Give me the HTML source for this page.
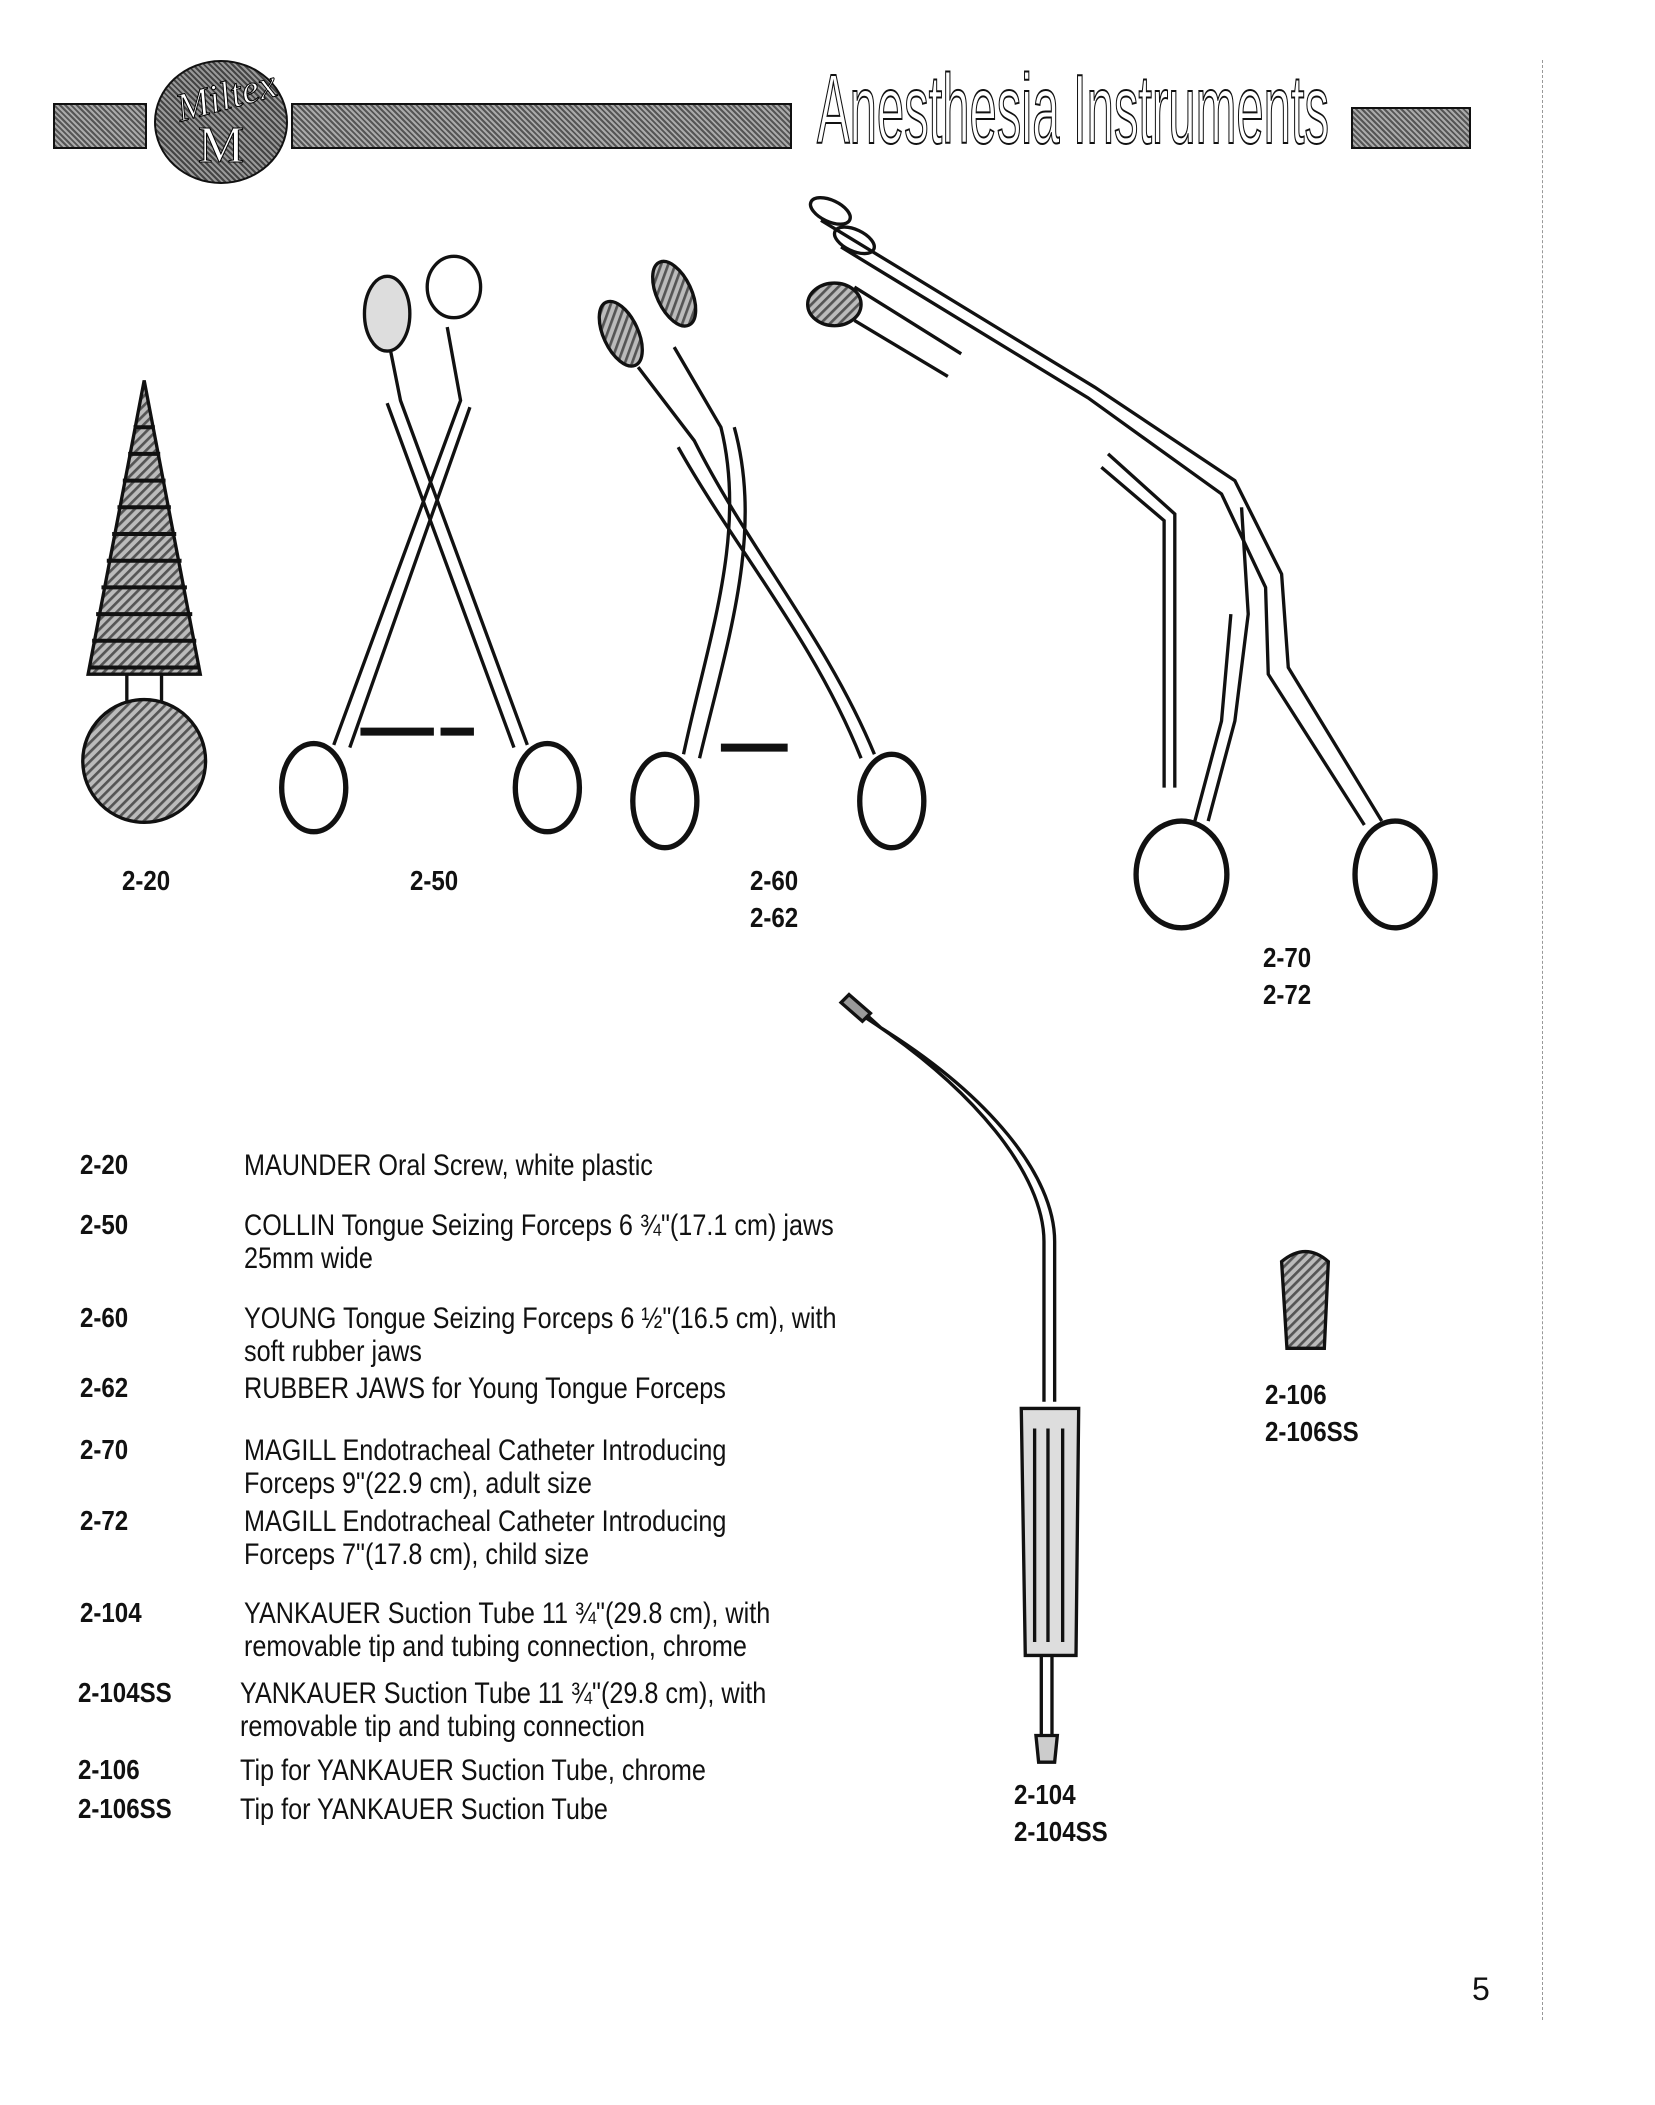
<!DOCTYPE html>
<html><head><meta charset="utf-8"><style>
html,body{margin:0;padding:0;background:#fff}
body{width:1655px;height:2105px;position:relative;overflow:hidden;font-family:"Liberation Sans",sans-serif;color:#111}
.t{position:absolute;font-size:30px;line-height:33px;white-space:nowrap;transform:scaleX(0.84);transform-origin:0 0}
.c{position:absolute;font-size:28px;font-weight:bold;white-space:nowrap;line-height:34px;transform:scaleX(0.86);transform-origin:0 0}
.bar{position:absolute;background:repeating-linear-gradient(45deg,#555 0 2px,#aaa 2px 4px);border:2px solid #111}
</style></head><body>
<div class="bar" style="left:53px;top:103px;width:90px;height:42px"></div>
<div class="bar" style="left:291px;top:103px;width:497px;height:42px"></div>
<div class="bar" style="left:1351px;top:107px;width:116px;height:38px"></div>
<div style="position:absolute;left:154px;top:60px;width:130px;height:120px;border-radius:50%;background:repeating-linear-gradient(45deg,#444 0 2px,#999 2px 4px);border:2px solid #111"></div>
<div style="position:absolute;left:175px;top:72px;font-family:'Liberation Serif',serif;font-style:italic;font-size:40px;color:#fff;-webkit-text-stroke:1px #000;transform:rotate(-15deg)">Miltex</div>
<div style="position:absolute;left:198px;top:118px;font-family:'Liberation Serif',serif;font-size:52px;line-height:56px;color:#fff;-webkit-text-stroke:1px #000">M</div>
<div style="position:absolute;left:817px;top:54px;font-size:98px;line-height:110px;color:#fff;-webkit-text-stroke:2px #111;white-space:nowrap;transform:scaleX(0.5);transform-origin:0 0">Anesthesia Instruments</div>
<div style="position:absolute;left:1542px;top:60px;height:1960px;border-left:1px dashed #999"></div>

<svg width="1655" height="2105" style="position:absolute;left:0;top:0" viewBox="0 0 1655 2105">
<defs><pattern id="h" width="5" height="5" patternUnits="userSpaceOnUse" patternTransform="rotate(45)"><rect width="5" height="5" fill="#bbb"/><rect width="2" height="5" fill="#555"/></pattern></defs>
<g transform="scale(1.335)" fill="none" stroke="#111" stroke-width="2.5">
<path d="M108 285 L150 505 L66 505 Z" fill="url(#h)"/>
<g stroke-width="3">
<path d="M100 320h16M96 340h24M92 360h32M88 380h40M84 400h48M80 420h56M76 440h64M72 460h72M69 480h78M66 500h84"/></g>
<path d="M95 505 L95 525 M121 505 L121 525"/>
<circle cx="108" cy="570" r="46" fill="url(#h)"/>
<ellipse cx="235" cy="590" rx="24" ry="33" stroke-width="4"/>
<ellipse cx="410" cy="590" rx="24" ry="33" stroke-width="4"/>
<path d="M250 558 L345 300 L335 245 M262 560 L352 305 M395 558 L300 300 L292 260 M385 560 L290 302"/>
<ellipse cx="290" cy="235" rx="17" ry="28" fill="#ddd"/>
<ellipse cx="340" cy="215" rx="20" ry="23"/>
<path d="M270 548 h55 M330 548 h25" stroke-width="6"/>
<ellipse cx="498" cy="600" rx="24" ry="35" stroke-width="4"/>
<ellipse cx="668" cy="600" rx="24" ry="35" stroke-width="4"/>
<path d="M512 565 C530 480 560 400 540 320 L505 260 M524 568 C545 480 572 400 550 320 M655 565 C620 480 560 410 520 330 L478 275 M645 568 C610 480 550 410 508 335"/>
<ellipse cx="465" cy="250" rx="13" ry="26" fill="url(#h)" transform="rotate(-25 465 250)"/>
<ellipse cx="505" cy="220" rx="13" ry="26" fill="url(#h)" transform="rotate(-25 505 220)"/>
<path d="M540 560 h50" stroke-width="6"/>
<ellipse cx="885" cy="655" rx="34" ry="40" stroke-width="4"/>
<ellipse cx="1045" cy="655" rx="30" ry="40" stroke-width="4"/>
<path d="M615 165 L820 290 L925 360 L960 430 L965 500 L1035 615 M630 185 L815 298 L915 370 L948 440 L950 505 L1022 618"/>
<path d="M905 615 L925 540 L935 460 L930 380 M895 615 L915 540 L922 460"/>
<ellipse cx="622" cy="158" rx="16" ry="8" transform="rotate(25 622 158)"/>
<ellipse cx="640" cy="180" rx="16" ry="8" transform="rotate(25 640 180)"/>
<ellipse cx="625" cy="228" rx="20" ry="16" fill="url(#h)"/>
<path d="M640 215 L720 265 M640 240 L710 282"/>
<path d="M830 340 L880 385 L880 590 M825 350 L872 390 L872 590"/>
<path d="M640 752 L660 770 C740 820 790 880 790 930 L790 1050 M645 760 C730 815 782 880 782 930 L782 1050"/>
<path d="M636 745 l16 14 l-6 6 l-16 -14z" fill="#999"/>
<path d="M765 1055 L808 1055 L806 1240 L768 1240 Z" fill="#ddd"/>
<path d="M775 1070 V1230 M785 1070 V1230 M796 1070 V1230"/>
<path d="M780 1240 V1300 M788 1240 V1300 M776 1300 L792 1300 L790 1320 L778 1320 Z" fill="#ccc"/>
<path d="M960 945 Q978 930 995 945 L992 1010 L964 1010 Z" fill="url(#h)"/>
</g>
</svg>

<div class="c" style="left:122px;top:864px">2-20</div>
<div class="c" style="left:410px;top:864px">2-50</div>
<div class="c" style="left:750px;top:864px">2-60</div>
<div class="c" style="left:750px;top:901px">2-62</div>
<div class="c" style="left:1263px;top:941px">2-70</div>
<div class="c" style="left:1263px;top:978px">2-72</div>
<div class="c" style="left:1265px;top:1378px">2-106</div>
<div class="c" style="left:1265px;top:1415px">2-106SS</div>
<div class="c" style="left:1014px;top:1778px">2-104</div>
<div class="c" style="left:1014px;top:1815px">2-104SS</div>
<div class="t" style="left:1472px;top:1973px;font-size:32px;transform:none">5</div>

<div class="c" style="left:80px;top:1148px">2-20</div>
<div class="t" style="left:244px;top:1149px">MAUNDER Oral Screw, white plastic</div>
<div class="c" style="left:80px;top:1208px">2-50</div>
<div class="t" style="left:244px;top:1209px">COLLIN Tongue Seizing Forceps 6 ¾"(17.1 cm) jaws<br>25mm wide</div>
<div class="c" style="left:80px;top:1301px">2-60</div>
<div class="t" style="left:244px;top:1302px">YOUNG Tongue Seizing Forceps 6 ½"(16.5 cm), with<br>soft rubber jaws</div>
<div class="c" style="left:80px;top:1371px">2-62</div>
<div class="t" style="left:244px;top:1372px">RUBBER JAWS for Young Tongue Forceps</div>
<div class="c" style="left:80px;top:1433px">2-70</div>
<div class="t" style="left:244px;top:1434px">MAGILL Endotracheal Catheter Introducing<br>Forceps 9"(22.9 cm), adult size</div>
<div class="c" style="left:80px;top:1504px">2-72</div>
<div class="t" style="left:244px;top:1505px">MAGILL Endotracheal Catheter Introducing<br>Forceps 7"(17.8 cm), child size</div>
<div class="c" style="left:80px;top:1596px">2-104</div>
<div class="t" style="left:244px;top:1597px">YANKAUER Suction Tube 11 ¾"(29.8 cm), with<br>removable tip and tubing connection, chrome</div>
<div class="c" style="left:78px;top:1676px">2-104SS</div>
<div class="t" style="left:240px;top:1677px">YANKAUER Suction Tube 11 ¾"(29.8 cm), with<br>removable tip and tubing connection</div>
<div class="c" style="left:78px;top:1753px">2-106</div>
<div class="t" style="left:240px;top:1754px">Tip for YANKAUER Suction Tube, chrome</div>
<div class="c" style="left:78px;top:1792px">2-106SS</div>
<div class="t" style="left:240px;top:1793px">Tip for YANKAUER Suction Tube</div>
</body></html>
